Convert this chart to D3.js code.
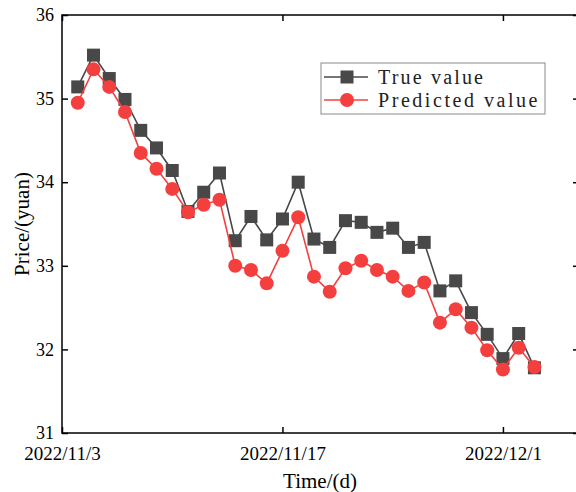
<!DOCTYPE html>
<html>
<head>
<meta charset="utf-8">
<script src="https://cdn.jsdelivr.net/npm/d3@7"></script>
<style>
  body { margin: 0; background: #fff; }
  svg { display: block; }
</style>
</head>
<body>
<svg width="576" height="492"></svg>
<script>
// daily closing price, 2022/11/4 .. 2022/12/3
const dates = d3.timeDay.range(new Date(2022, 10, 4), new Date(2022, 11, 4))
const trueValue = [35.14, 35.52, 35.24, 34.99, 34.62, 34.41, 34.14, 33.65, 33.88, 34.11,
  33.30, 33.59, 33.31, 33.56, 34.00, 33.32, 33.22, 33.54, 33.52, 33.40,
  33.45, 33.22, 33.28, 32.70, 32.82, 32.44, 32.18, 31.89, 32.19, 31.78]
const predValue = [34.95, 35.35, 35.14, 34.84, 34.35, 34.16, 33.92, 33.64, 33.73, 33.79,
  33.00, 32.95, 32.79, 33.18, 33.58, 32.87, 32.69, 32.97, 33.06, 32.95,
  32.87, 32.70, 32.80, 32.32, 32.48, 32.26, 31.99, 31.76, 32.02, 31.79]
const xTicks = [new Date(2022, 10, 3), new Date(2022, 10, 17), new Date(2022, 11, 1)]
const yTicks = [31, 32, 33, 34, 35, 36]

const svg = d3.select('svg')
const mLeft = 62
const mRight = 579
const mTop = 15
const mBottom = 433

const x0 = new Date(2022, 10, 3)
const x = d3.scaleTime()
  .domain([x0, new Date(+x0 + 32.83 * 864e5)])
  .range([mLeft, mRight])
const y = d3.scaleLinear().domain([31, 36]).range([mBottom, mTop])

const fmt = d => d.getFullYear() + '/' + (d.getMonth() + 1) + '/' + d.getDate()
const serif = 'Liberation Serif, Times New Roman, serif'

// frame
svg.append('rect')
  .attr('x', mLeft).attr('y', mTop)
  .attr('width', mRight - mLeft).attr('height', mBottom - mTop)
  .attr('fill', 'none').attr('stroke', '#000').attr('stroke-width', 1.5)

const styleAxis = size => g => {
  g.select('.domain').remove()
  g.selectAll('.tick line').attr('stroke', '#000').attr('stroke-width', 1.5)
  g.selectAll('.tick text').attr('font-family', serif).attr('font-size', size).attr('fill', '#000')
}

svg.append('g')
  .attr('transform', `translate(0,${mBottom})`)
  .call(d3.axisBottom(x).tickValues(xTicks).tickFormat(fmt).tickSizeInner(-6).tickPadding(14))
  .call(styleAxis(19))
svg.append('g')
  .attr('transform', `translate(0,${mTop})`)
  .call(d3.axisTop(x).tickValues(xTicks).tickFormat('').tickSizeInner(-6))
  .call(styleAxis(19))
svg.append('g')
  .attr('transform', `translate(${mLeft},0)`)
  .call(d3.axisLeft(y).tickValues(yTicks).tickFormat(d3.format('d')).tickSizeInner(-6).tickPadding(8))
  .call(styleAxis(18))
svg.append('g')
  .attr('transform', `translate(${mRight},0)`)
  .call(d3.axisRight(y).tickValues(yTicks).tickFormat('').tickSizeInner(-6))
  .call(styleAxis(18))

// axis titles
svg.append('text')
  .attr('x', (mLeft + 578) / 2).attr('y', 488)
  .attr('text-anchor', 'middle')
  .attr('font-family', serif).attr('font-size', 21)
  .text('Time/(d)')
svg.append('text')
  .attr('transform', `translate(29,${(mTop + mBottom) / 2}) rotate(-90)`)
  .attr('text-anchor', 'middle')
  .attr('font-family', serif).attr('font-size', 21)
  .text('Price/(yuan)')

const grayC = '#484848'
const redC = '#f43f3f'
const line = d3.line().x((d, i) => x(dates[i])).y(d => y(d))

svg.append('path').datum(trueValue)
  .attr('d', line).attr('fill', 'none').attr('stroke', grayC).attr('stroke-width', 1.6)
svg.append('g').selectAll('rect').data(trueValue).enter().append('rect')
  .attr('x', (d, i) => x(dates[i]) - 6.5)
  .attr('y', d => y(d) - 6.5)
  .attr('width', 13).attr('height', 13)
  .attr('fill', grayC)

svg.append('path').datum(predValue)
  .attr('d', line).attr('fill', 'none').attr('stroke', redC).attr('stroke-width', 1.6)
svg.append('g').selectAll('circle').data(predValue).enter().append('circle')
  .attr('cx', (d, i) => x(dates[i]))
  .attr('cy', d => y(d))
  .attr('r', 7)
  .attr('fill', redC)

// legend
const lg = svg.append('g').attr('transform', 'translate(321,63)')
lg.append('rect').attr('width', 224).attr('height', 51)
  .attr('fill', '#fff').attr('stroke', '#8a8a8a').attr('stroke-width', 1)
const items = [
  { name: 'True value', color: grayC, shape: 'square' },
  { name: 'Predicted value', color: redC, shape: 'circle' }
]
items.forEach((it, i) => {
  const cy = 14 + i * 23
  lg.append('line').attr('x1', 3).attr('x2', 47).attr('y1', cy).attr('y2', cy)
    .attr('stroke', it.color).attr('stroke-width', 1.6)
  if (it.shape === 'square') {
    lg.append('rect').attr('x', 19.5).attr('y', cy - 6.5).attr('width', 13).attr('height', 13).attr('fill', it.color)
  } else {
    lg.append('circle').attr('cx', 26).attr('cy', cy).attr('r', 7).attr('fill', it.color)
  }
  lg.append('text').attr('x', 57).attr('y', cy + 7)
    .attr('font-family', serif).attr('font-size', 20)
    .attr('fill', '#222')
    .attr('textLength', it.name.length * 10.9 - 4)
    .attr('lengthAdjust', 'spacing')
    .text(it.name)
})
</script>
</body>
</html>
